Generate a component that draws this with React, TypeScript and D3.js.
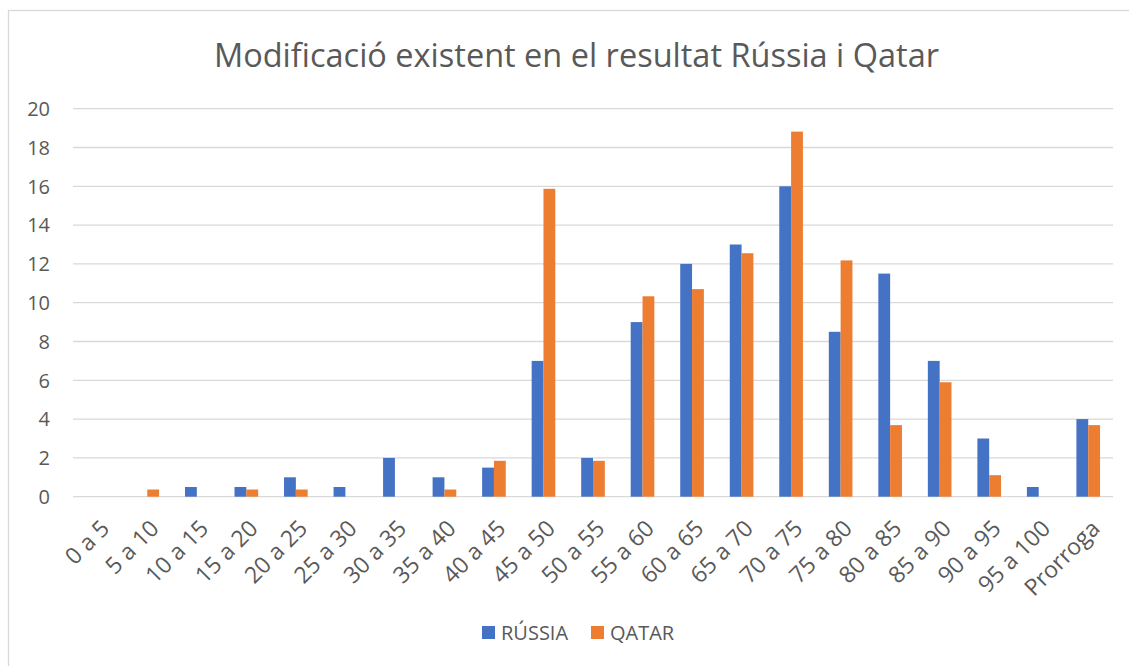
import React, { useEffect, useRef } from 'react';
import * as d3 from 'd3';

const categories = [
  '0 a 5', '5 a 10', '10 a 15', '15 a 20', '20 a 25', '25 a 30', '30 a 35',
  '35 a 40', '40 a 45', '45 a 50', '50 a 55', '55 a 60', '60 a 65', '65 a 70',
  '70 a 75', '75 a 80', '80 a 85', '85 a 90', '90 a 95', '95 a 100', 'Prorroga',
];
const russia = [0, 0, 0.5, 0.5, 1, 0.5, 2, 1, 1.5, 7, 2, 9, 12, 13, 16, 8.5, 11.5, 7, 3, 0.5, 4];
const qatar = [0, 0.37, 0, 0.37, 0.37, 0, 0, 0.37, 1.85, 15.87, 1.85, 10.33, 10.7, 12.55, 18.82, 12.18, 3.69, 5.9, 1.11, 0, 3.69];
const yTicks = [0, 2, 4, 6, 8, 10, 12, 14, 16, 18, 20];
const seriesNames = ['RÚSSIA', 'QATAR'];
const seriesColors = ['#4472C4', '#ED7D31'];

const App = () => {
  const svgRef = useRef<SVGSVGElement>(null);

  useEffect(() => {
    const width = 1129;
    const height = 666;
    const left = 73;
    const right = 1113;
    const top = 108.7;
    const bottom = 496.7;
    const font = '"Open Sans", sans-serif';
    const textColor = '#595959';

    const svg = d3.select(svgRef.current);
    svg.selectAll('*').remove();
    svg.attr('width', width).attr('height', height);

    // chart frame (only top/left visible in the reference)
    svg.append('rect')
      .attr('x', 8.5).attr('y', 10.5)
      .attr('width', 1140).attr('height', 680)
      .attr('fill', '#fff')
      .attr('stroke', '#D9D9D9')
      .attr('stroke-width', 1.3);

    const x = d3.scaleBand<string>().domain(categories).range([left, right]).padding(0);
    const y = d3.scaleLinear().domain([0, 20]).range([bottom, top]);
    const barW = x.bandwidth() / (2 + 2.19); // excel gap width 219%

    // gridlines
    svg.append('g').selectAll('line')
      .data(yTicks)
      .join('line')
      .attr('x1', left).attr('x2', right)
      .attr('y1', d => y(d)).attr('y2', d => y(d))
      .attr('stroke', '#D9D9D9')
      .attr('stroke-width', 1.3);

    // y labels
    svg.append('g').selectAll('text')
      .data(yTicks)
      .join('text')
      .attr('x', 50)
      .attr('y', d => y(d))
      .attr('dy', '0.36em')
      .attr('text-anchor', 'end')
      .style('font-family', font)
      .style('font-size', '20px')
      .style('fill', textColor)
      .text(d => d);

    // bars
    [russia, qatar].forEach((vals, s) => {
      svg.append('g').selectAll('rect')
        .data(vals)
        .join('rect')
        .attr('x', (d, i) => (x(categories[i]) as number) + x.bandwidth() / 2 - barW + s * barW)
        .attr('y', d => y(d))
        .attr('width', barW)
        .attr('height', d => bottom - y(d))
        .attr('fill', seriesColors[s]);
    });

    // x labels rotated
    svg.append('g').selectAll('text')
      .data(categories)
      .join('text')
      .attr('transform', d => `translate(${(x(d) as number) + x.bandwidth() / 2 + 13}, 530) rotate(-45)`)
      .attr('text-anchor', 'end')
      .style('font-family', font)
      .style('font-size', '23px')
      .style('fill', textColor)
      .text(d => d);

    // title
    svg.append('text')
      .attr('x', 576.5)
      .attr('y', 67)
      .attr('text-anchor', 'middle')
      .style('font-family', font)
      .style('font-size', '32.5px')
      .style('fill', textColor)
      .text('Modificació existent en el resultat Rússia i Qatar');

    // legend
    const legendX = [482, 591];
    const lg = svg.append('g');
    seriesNames.forEach((name, i) => {
      lg.append('rect')
        .attr('x', legendX[i]).attr('y', 626)
        .attr('width', 13).attr('height', 13)
        .attr('fill', seriesColors[i]);
      lg.append('text')
        .attr('x', legendX[i] + 19)
        .attr('y', 639.5)
        .style('font-family', font)
        .style('font-size', '20px')
        .style('fill', textColor)
        .text(name);
    });
  }, []);

  return (
    <svg ref={svgRef} style={{ position: 'absolute', left: 0, top: 0, display: 'block' }}></svg>
  );
};

export default App;
